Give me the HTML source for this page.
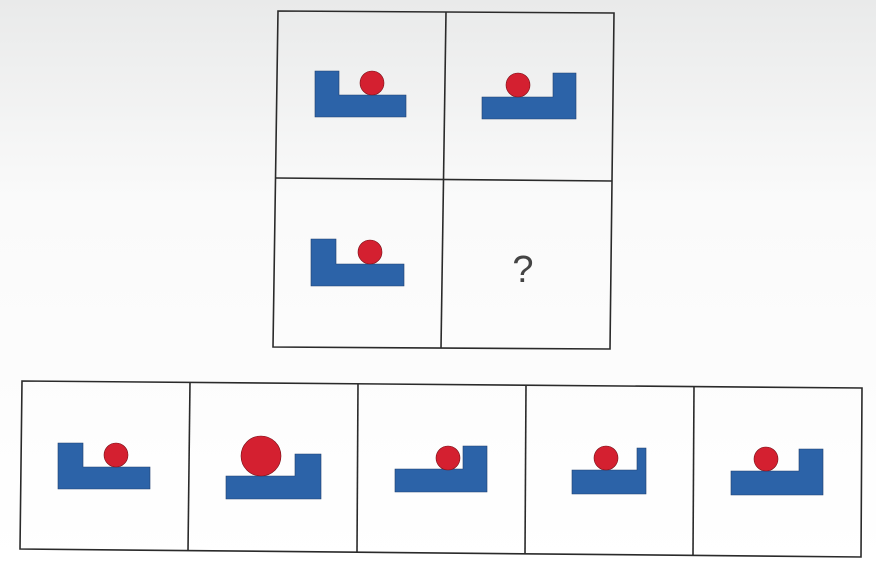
<!DOCTYPE html>
<html><head><meta charset="utf-8"><style>
html,body{margin:0;padding:0;width:876px;height:567px;overflow:hidden;background:#fff}
svg{display:block}
</style></head><body>
<svg width="876" height="567" viewBox="0 0 876 567">
<defs><linearGradient id="bg" x1="0" y1="0" x2="0" y2="1">
<stop offset="0" stop-color="#e9eaea"/><stop offset="0.35" stop-color="#fafafa"/><stop offset="1" stop-color="#ffffff"/></linearGradient></defs>
<rect width="876" height="567" fill="url(#bg)"/>
<g fill="none" stroke="#2a2a2a" stroke-width="1.6">
<polygon points="278,11 614,13 610,349 273,347"/>
<line x1="446" y1="12" x2="441" y2="348"/>
<line x1="276" y1="178" x2="612" y2="181"/>
</g>
<g stroke="#1f3f6e" stroke-width="0.6">
<polygon fill="#2c63a8" points="315,71 339,71 339,95 406,95 406,117 315,117"/>
<circle fill="#d42030" stroke="#7a1018" cx="372" cy="83" r="12"/>
<polygon fill="#2c63a8" points="482,97 553,97 553,73 576,73 576,119 482,119"/>
<circle fill="#d42030" stroke="#7a1018" cx="518" cy="85" r="12"/>
<polygon fill="#2c63a8" points="311,239 336,239 336,264 404,264 404,286 311,286"/>
<circle fill="#d42030" stroke="#7a1018" cx="370" cy="252" r="12"/>
</g>
<text x="523" y="282" font-family="Liberation Sans, sans-serif" font-size="38" fill="#444" text-anchor="middle">?</text>
<g fill="none" stroke="#2a2a2a" stroke-width="1.6">
<polygon points="22,381 862,388 861,557 20,549"/>
<line x1="190" y1="382" x2="188" y2="551"/>
<line x1="358" y1="384" x2="357" y2="552"/>
<line x1="526" y1="385" x2="525" y2="554"/>
<line x1="694" y1="386" x2="693" y2="555"/>
</g>
<g stroke="#1f3f6e" stroke-width="0.6">
<g>
<polygon fill="#2c63a8" points="58,443 83,443 83,467 150,467 150,489 58,489"/>
<circle fill="#d42030" stroke="#7a1018" cx="116" cy="455" r="12"/>
</g>
<g>
<polygon fill="#2c63a8" points="226,476 295,476 295,454 321,454 321,499 226,499"/>
<circle fill="#d42030" stroke="#7a1018" cx="261" cy="456" r="20"/>
</g>
<g>
<polygon fill="#2c63a8" points="395,469 463,469 463,446 487,446 487,492 395,492"/>
<circle fill="#d42030" stroke="#7a1018" cx="448" cy="458" r="12"/>
</g>
<g>
<polygon fill="#2c63a8" points="572,470 637,470 637,448 646,448 646,494 572,494"/>
<circle fill="#d42030" stroke="#7a1018" cx="606" cy="458" r="12"/>
</g>
<g>
<polygon fill="#2c63a8" points="731,471 799,471 799,449 823,449 823,495 731,495"/>
<circle fill="#d42030" stroke="#7a1018" cx="766" cy="459" r="12"/>
</g>
</g>
</svg>
</body></html>
